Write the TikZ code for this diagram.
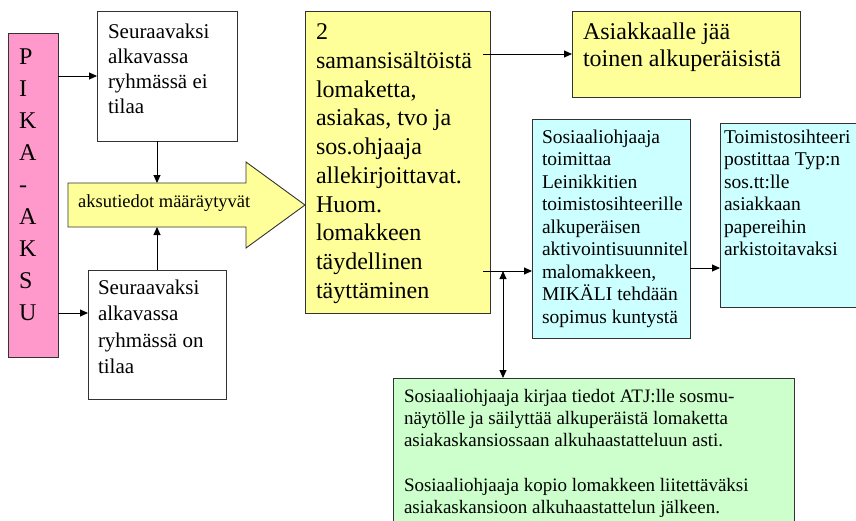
\documentclass[tikz,border=0pt]{standalone}
\usepackage{fontspec}
\setmainfont{Liberation Serif}
\usetikzlibrary{arrows.meta}
\definecolor{pinkfill}{HTML}{FF99CC}
\definecolor{yel}{HTML}{FFFF99}
\definecolor{cyn}{HTML}{CCFFFF}
\definecolor{grn}{HTML}{CCFFCC}
\definecolor{edge}{HTML}{333333}
\newcommand\tb[6]{\parbox[t][#2][t]{#1}{\fontsize{#4}{#5}\selectfont\parindent=0pt\leftskip=#3\rightskip=0pt plus 1fil\relax #6\par}}
\begin{document}
\begin{tikzpicture}[x=1pt,y=-1pt,
  bx/.style={draw=edge, line width=0.9pt, anchor=north west, inner xsep=0pt, outer sep=0pt},
  con/.style={line width=0.9pt, ->, >={Triangle[length=8pt,width=7pt]}}]
\useasboundingbox (0,0) rectangle (856,520);
\clip (0,0) rectangle (856,520);
\fill[white] (0,0) rectangle (856,520);

\node[bx, fill=pinkfill, inner ysep=16pt] (pk) at (8,33) {\tb{50pt}{292pt}{11pt}{24}{32}{P\\I\\K\\A\\-\\A\\K\\S\\U}};
\node[bx, fill=white, inner ysep=13pt] (tl) at (97,11) {\tb{140pt}{104pt}{11pt}{21}{25}{Seuraavaksi\\alkavassa\\ryhmässä ei\\tilaa}};
\node[bx, fill=white, inner ysep=10pt] (bl) at (88,270) {\tb{138pt}{109pt}{10pt}{21}{26.3}{Seuraavaksi\\alkavassa\\ryhmässä on\\tilaa}};
\node[bx, fill=yel, inner ysep=13pt] (big) at (305,11) {\tb{185pt}{276pt}{11pt}{24}{28.7}{2\\samansisältöistä\\lomaketta,\\asiakas, tvo ja\\sos.ohjaaja\\allekirjoittavat.\\Huom.\\lomakkeen\\täydellinen\\täyttäminen}};
\node[bx, fill=yel, inner ysep=12pt] (tr) at (572,11) {\tb{228pt}{62pt}{11pt}{24}{27}{Asiakkaalle jää\\toinen alkuperäisistä}};
\node[bx, fill=cyn, inner ysep=10.5pt] (c1) at (532,119) {\tb{158pt}{198pt}{10pt}{19.5}{22.5}{Sosiaaliohjaaja\\toimittaa\\Leinikkitien\\toimistosihteerille\\alkuperäisen\\aktivointisuunnitel\\malomakkeen,\\MIKÄLI tehdään\\sopimus kuntystä}};
\node[bx, fill=cyn, inner ysep=6.5pt] (c2) at (720,123) {\tb{150pt}{171pt}{4pt}{19.5}{22.5}{Toimistosihteeri\\postittaa Typ:n\\sos.tt:lle\\asiakkaan\\papereihin\\arkistoitavaksi}};
\node[bx, fill=grn, inner ysep=11pt] (gr) at (393,378) {\tb{401pt}{130pt}{11pt}{19}{22.3}{Sosiaaliohjaaja kirjaa tiedot ATJ:lle sosmu-\\näytölle ja säilyttää alkuperäistä lomaketta\\asiakaskansiossaan alkuhaastatteluun asti.\\\mbox{}\\Sosiaaliohjaaja kopio lomakkeen liitettäväksi\\asiakaskansioon alkuhaastattelun jälkeen.}};

% block arrow
\draw[draw=edge, line width=0.9pt, fill=yel] (68,183) -- (246,183) -- (246,162) -- (305,205) -- (246,248) -- (246,227) -- (68,227) -- cycle;
\node[anchor=base west, inner sep=0pt, font=\fontsize{18.5}{22}\selectfont] (ak) at (78,207) {aksutiedot määräytyvät};
\coordinate (batop) at (157,183);
\coordinate (babot) at (157,227);

% connectors
\draw[con] (pk.east |- tl.west) -- (tl.west);
\coordinate (blin) at ([yshift=21.5pt]bl.west);
\draw[con] (pk.east |- blin) -- (blin);
\draw[con] (tl.south -| batop) -- (batop);
\draw[con] (bl.north -| babot) -- (babot);
\coordinate (bx) at ([xshift=-7pt]big.east);
\draw[con] (bx |- tr.west) -- (tr.west);
\coordinate (j) at (503,271);
\draw[con] (bx |- j) -- (j -| c1.west);
\draw[con, <->] (j) -- (j |- gr.north);
\coordinate (k) at (705,268);
\draw[con] (c1.east |- k) -- (c2.west |- k);
\end{tikzpicture}
\end{document}
